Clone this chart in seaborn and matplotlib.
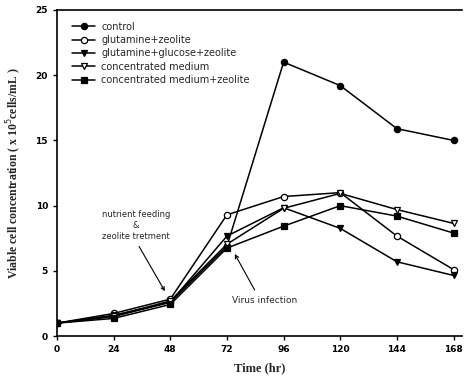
import matplotlib
matplotlib.use("Agg")
import matplotlib.pyplot as plt
import seaborn as sns
import pandas as pd

time_hr = [0, 24, 48, 72, 96, 120, 144, 168]
control = [1.0, 1.5, 2.6, 6.9, 21.0, 19.2, 15.9, 15.0]
glutamine_zeolite = [1.0, 1.74, 2.84, 9.3, 10.7, 11.0, 7.67, 5.1]
glutamine_glucose_zeolite = [1.0, 1.6, 2.6, 7.67, 9.84, 8.26, 5.7, 4.65]
concentrated_medium = [1.0, 1.55, 2.7, 7.05, 9.8, 10.94, 9.7, 8.64]
concentrated_medium_zeolite = [1.0, 1.36, 2.43, 6.75, 8.43, 10.0, 9.2, 7.9]

series_names = ["control", "glutamine+zeolite", "glutamine+glucose+zeolite",
                "concentrated medium", "concentrated medium+zeolite"]
series_values = [control, glutamine_zeolite, glutamine_glucose_zeolite,
                 concentrated_medium, concentrated_medium_zeolite]
x_ticks = [0, 24, 48, 72, 96, 120, 144, 168]
y_ticks = [0, 5, 10, 15, 20, 25]

sns.set_style("white")
plt.rcParams['font.family'] = ['DejaVu Sans']

fig = plt.figure(figsize=(4.67, 3.82), dpi=100)
ax = fig.add_axes([0.122, 0.12, 0.867, 0.854])

markers = ["o", "o", "v", "v", "s"]
faces = ["black", "white", "black", "white", "black"]

for name, vals, m, fc in zip(series_names, series_values, markers, faces):
    df = pd.DataFrame({"t": time_hr, "v": vals})
    sns.lineplot(data=df, x="t", y="v", ax=ax, color="black", linewidth=1.1,
                 marker=m, markersize=4.5, markerfacecolor=fc,
                 markeredgecolor="black", markeredgewidth=0.9, label=name)

ax.set_xlim(0, 171.5)
ax.set_ylim(0, 25)
ax.set_xticks(x_ticks)
ax.set_yticks(y_ticks)
ax.tick_params(axis="both", direction="out", length=3, width=1, labelsize=6.5,
               colors="black", bottom=True, left=True)
for lab in ax.get_xticklabels() + ax.get_yticklabels():
    lab.set_fontweight("bold")
ax.spines["right"].set_visible(False)
for s in ["left", "bottom", "top"]:
    ax.spines[s].set_color("black")
    ax.spines[s].set_linewidth(1.2)

ax.set_xlabel("Time (hr)", fontsize=9, fontweight="bold", family="Liberation Serif", labelpad=6)
ax.set_ylabel("Viable cell concentration ( x 10$^{5}$cells/mL )", fontsize=8.5,
              fontweight="bold", family="Liberation Serif", labelpad=8)

leg = ax.legend(loc="upper left", bbox_to_anchor=(0.02, 0.985), frameon=False,
                fontsize=7, handlelength=2.4, labelspacing=0.35, borderaxespad=0.3,
                handletextpad=0.6)

ax.annotate("nutrient feeding\n&\nzeolite tretment", xy=(45.7, 3.45), xytext=(33.4, 8.5),
            fontsize=6, ha="center", va="center", linespacing=1.3,
            arrowprops=dict(arrowstyle="->", color="black", lw=0.8,
                            relpos=(0.5, 0.0), shrinkA=2, shrinkB=0))
ax.annotate("Virus infection", xy=(75.3, 6.3), xytext=(74, 2.76),
            fontsize=6.5, ha="left", va="center",
            arrowprops=dict(arrowstyle="->", color="black", lw=0.8,
                            relpos=(0.4, 1.0), shrinkA=2, shrinkB=0))

fig.savefig("out.png", dpi=100)
